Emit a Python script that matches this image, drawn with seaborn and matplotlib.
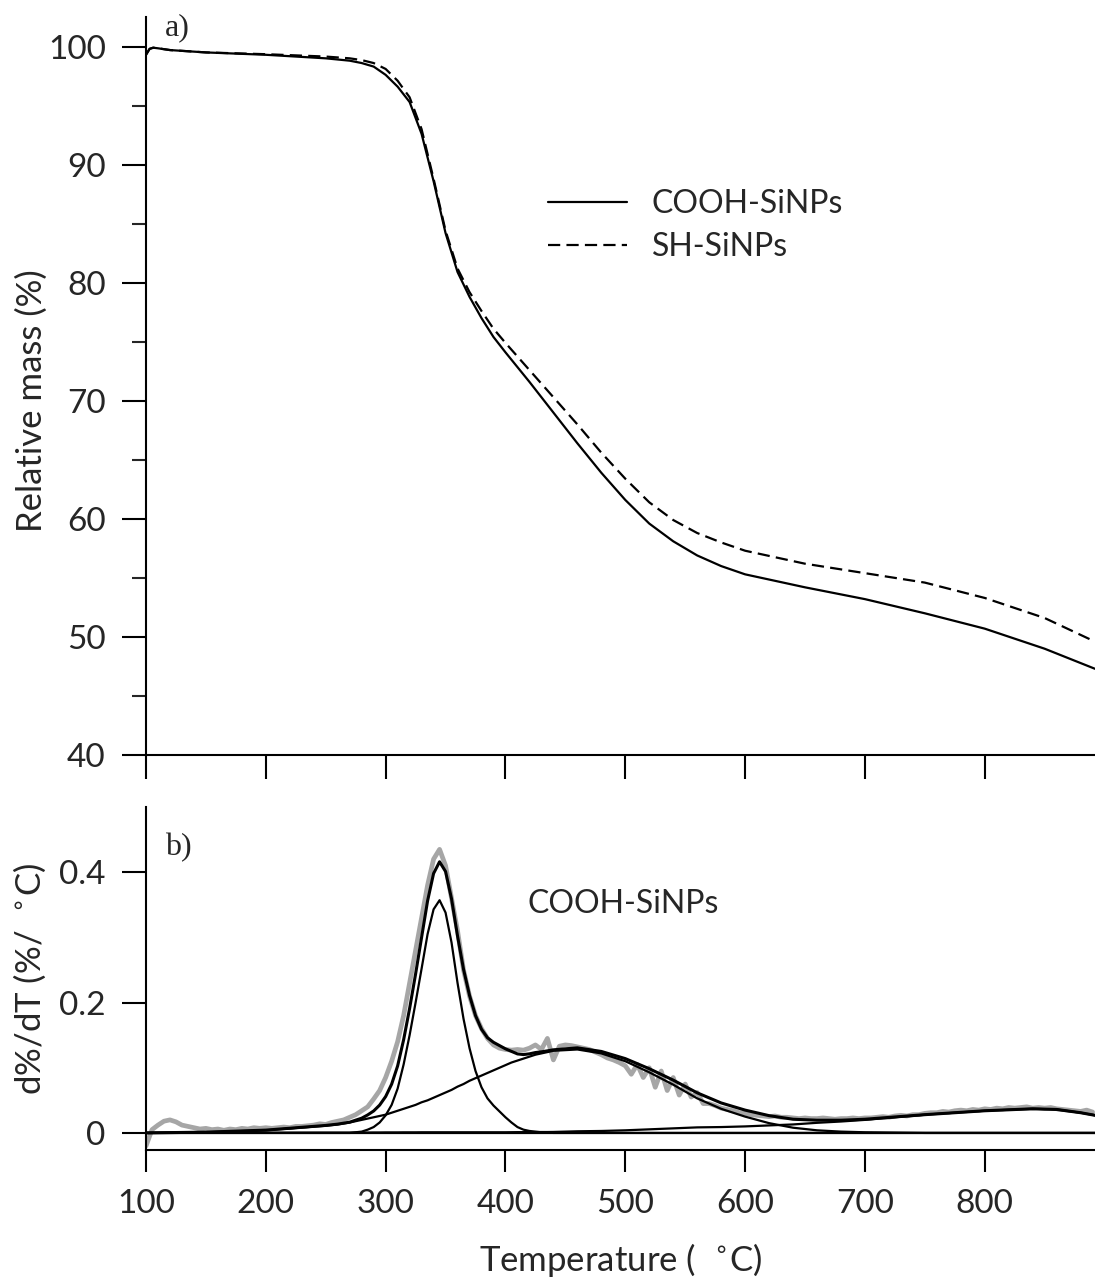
import numpy as np
import pandas as pd
import matplotlib
matplotlib.use("Agg")
import matplotlib.pyplot as plt
import seaborn as sns

# ---------------- data: a) TGA curves ----------------
temp_tga = [100, 103, 106, 110, 120, 150, 200, 250, 270, 280, 290, 300, 310, 320,
            330, 340, 350, 360, 370, 380, 390, 400, 420, 440, 460, 480, 500, 520,
            540, 560, 580, 600, 650, 700, 750, 800, 850, 892]
mass_cooh = [99.3, 99.8, 99.9, 99.85, 99.7, 99.5, 99.3, 99.0, 98.8, 98.6, 98.3, 97.6,
             96.6, 95.3, 92.6, 88.6, 84.2, 80.9, 78.8, 77.0, 75.4, 74.1, 71.6, 69.0,
             66.4, 63.9, 61.6, 59.6, 58.1, 56.9, 56.0, 55.3, 54.2, 53.2, 52.0, 50.7,
             49.0, 47.3]
mass_sh = [99.3, 99.8, 99.9, 99.85, 99.7, 99.5, 99.35, 99.15, 99.0, 98.85, 98.6, 98.1,
           97.1, 95.7, 93.0, 88.8, 84.4, 81.2, 79.2, 77.6, 76.1, 74.9, 72.6, 70.3,
           68.0, 65.6, 63.4, 61.4, 59.9, 58.8, 58.0, 57.3, 56.2, 55.4, 54.6, 53.3,
           51.6, 49.6]

# ---------------- data: b) DTG fit components ----------------
temp_fit = [100, 150, 200, 250, 260, 270,
            275, 280, 285, 290, 295, 300, 305, 310, 315, 320, 325, 330, 335, 340,
            345, 350, 355, 360, 365, 370, 375, 380, 385, 390, 395, 400, 405, 410,
            415, 420, 425, 430, 435, 440,
            460, 480, 500, 520, 540, 560, 580, 600, 620, 640, 660, 680, 700, 750,
            800, 840, 860, 880, 892]
peak1 = [0.0, 0.0, 0.0, 0.0, 0.0, 0.0,
         0.001, 0.002, 0.005, 0.009, 0.016, 0.027, 0.043, 0.068, 0.105, 0.150, 0.200,
         0.252, 0.305, 0.343, 0.357, 0.338, 0.292, 0.230, 0.175, 0.130, 0.095, 0.070,
         0.053, 0.042, 0.033, 0.024, 0.016, 0.009, 0.005, 0.003, 0.002, 0.001,
         0.0005, 0.0,
         0.0, 0.0, 0.0, 0.0, 0.0, 0.0, 0.0, 0.0, 0.0, 0.0, 0.0, 0.0, 0.0, 0.0,
         0.0, 0.0, 0.0, 0.0, 0.0]
peak2 = [0.0, 0.001, 0.004, 0.011, 0.013, 0.016,
         0.018, 0.020, 0.022, 0.024, 0.026, 0.028, 0.031, 0.034, 0.037, 0.040, 0.043,
         0.047, 0.050, 0.054, 0.058, 0.062, 0.066, 0.071, 0.075, 0.080, 0.084, 0.088,
         0.092, 0.096, 0.100, 0.104, 0.108, 0.111, 0.114, 0.117, 0.120, 0.122,
         0.124, 0.126,
         0.128, 0.122, 0.110, 0.093, 0.074, 0.053, 0.037, 0.025, 0.015, 0.008,
         0.004, 0.002, 0.001, 0.0, 0.0, 0.0, 0.0, 0.0, 0.0]
peak3 = [0.0, 0.0002, 0.0003, 0.0005, 0.0005, 0.0005,
         0.0006, 0.0006, 0.0006, 0.0007, 0.0007, 0.0008, 0.0008, 0.0008, 0.0009,
         0.0009, 0.0009, 0.001, 0.001, 0.001, 0.001, 0.001, 0.001, 0.001, 0.001,
         0.001, 0.001, 0.001, 0.001, 0.001, 0.001, 0.001, 0.0011, 0.0012, 0.0012,
         0.0013, 0.0013, 0.0014, 0.0014, 0.0015,
         0.0025, 0.003, 0.004, 0.0055, 0.007, 0.0085, 0.009, 0.010, 0.0115, 0.013,
         0.0155, 0.0175, 0.020, 0.028, 0.034, 0.037, 0.036, 0.031, 0.027]

# ---------------- data: b) measured DTG (5 degC steps) ----------------
temp_raw = list(range(100, 895, 5))
dtg_raw = [-0.02, 0.005, 0.012, 0.018, 0.020, 0.017, 0.012, 0.010, 0.008, 0.006,
           0.007, 0.005, 0.006, 0.004, 0.006, 0.005, 0.007, 0.006, 0.008, 0.007,
           0.008, 0.007, 0.008, 0.009, 0.008, 0.010, 0.010, 0.011, 0.012, 0.014,
           0.013, 0.016, 0.018, 0.020, 0.024, 0.028, 0.034, 0.040, 0.052, 0.065,
           0.085, 0.110, 0.140, 0.180, 0.230, 0.280, 0.330, 0.380, 0.420, 0.435,
           0.410, 0.360, 0.310, 0.250, 0.210, 0.180, 0.160, 0.145, 0.135, 0.130,
           0.128, 0.127, 0.128, 0.127, 0.130, 0.135, 0.128, 0.145, 0.112, 0.133,
           0.135, 0.134, 0.132, 0.130, 0.128, 0.124, 0.120, 0.115, 0.112, 0.108,
           0.103, 0.090, 0.105, 0.085, 0.100, 0.070, 0.095, 0.065, 0.085, 0.058,
           0.075, 0.055, 0.062, 0.045, 0.045, 0.042, 0.038, 0.036, 0.034, 0.031,
           0.030, 0.028, 0.027, 0.026, 0.025, 0.026, 0.024, 0.024, 0.023, 0.022,
           0.023, 0.022, 0.022, 0.023, 0.022, 0.021, 0.022, 0.022, 0.023, 0.022,
           0.023, 0.023, 0.024, 0.025, 0.024, 0.026, 0.027, 0.026, 0.028, 0.028,
           0.030, 0.031, 0.031, 0.033, 0.032, 0.034, 0.035, 0.034, 0.036, 0.035,
           0.037, 0.036, 0.038, 0.037, 0.039, 0.038, 0.039, 0.040, 0.038, 0.039,
           0.038, 0.039, 0.037, 0.036, 0.035, 0.034, 0.033, 0.035, 0.032]

x_ticks = [100, 200, 300, 400, 500, 600, 700, 800]
y_ticks_a = [40, 50, 60, 70, 80, 90, 100]
y_ticks_b = [0, 0.2, 0.4]
y_ticklabels_b = ["0", "0.2", "0.4"]
series_names = ["COOH-SiNPs", "SH-SiNPs"]

# ---------------- style ----------------
sns.set_theme(style="ticks")
plt.rcParams["font.family"] = ["Lato", "DejaVu Sans"]
plt.rcParams["mathtext.fontset"] = "dejavusans"
FS_TICK = 24
FS_LAB = 25
FS_TXT = 23
LW = 1.6

fig = plt.figure(figsize=(10.95, 12.81), dpi=100)
ax1 = fig.add_axes([146 / 1095, 1 - 755 / 1281, 1 - 146 / 1095, (755 - 17) / 1281])
ax2 = fig.add_axes([146 / 1095, 1 - 1150 / 1281, 1 - 146 / 1095, (1150 - 807) / 1281])

# ---- a) ----
df_a = pd.DataFrame({"T": temp_tga + temp_tga,
                     "m": mass_cooh + mass_sh,
                     "s": [series_names[0]] * len(temp_tga) + [series_names[1]] * len(temp_tga)})
sns.lineplot(data=df_a[df_a.s == series_names[0]], x="T", y="m", ax=ax1, color="black",
             lw=LW, label=series_names[0])
sns.lineplot(data=df_a[df_a.s == series_names[1]], x="T", y="m", ax=ax1, color="black",
             lw=LW, linestyle=(0, (5.5, 2.8)), label=series_names[1])
ax1.set_xlim(100, 892)
ax1.set_ylim(40, 102.5)
ax1.set_xticks(x_ticks)
ax1.set_xticklabels([])
ax1.set_yticks(y_ticks_a)
ax1.set_yticks([45, 55, 65, 75, 85, 95], minor=True)
ax1.set_xlabel("")
ax1.set_ylabel("Relative mass (%)", fontsize=FS_LAB)
ax1.yaxis.set_label_coords(-0.103, 0.48)
ax1.tick_params(axis="both", which="major", length=17, width=1.5, labelsize=FS_TICK,
                direction="out", pad=12, color="black")
ax1.tick_params(axis="y", which="minor", length=10, width=1.5, direction="out")
leg = ax1.legend(loc="upper left", bbox_to_anchor=(0.393, 0.806), frameon=False,
                 fontsize=FS_TXT, handlelength=2.48, handletextpad=0.78, labelspacing=0.42)
ax1.text(116, 101.6, "a)", family="Liberation Serif", fontsize=23, va="center", ha="left")

# ---- b) ----
df_raw = pd.DataFrame({"T": temp_raw, "d": dtg_raw})
sns.lineplot(data=df_raw, x="T", y="d", ax=ax2, color="#a6a6a6", lw=3.4)
total = [a + b + c for a, b, c in zip(peak1, peak2, peak3)]
df_fit = pd.DataFrame({"T": temp_fit, "p1": peak1, "p2": peak2, "p3": peak3, "tot": total})
for col in ["p1", "p2", "p3"]:
    sns.lineplot(data=df_fit, x="T", y=col, ax=ax2, color="black", lw=LW)
sns.lineplot(data=df_fit, x="T", y="tot", ax=ax2, color="black", lw=2.2)
ax2.axhline(0, color="black", lw=LW)
ax2.set_xlim(100, 892)
ax2.set_ylim(-0.0262, 0.5)
ax2.set_xticks(x_ticks)
ax2.set_xticklabels([str(t) for t in x_ticks])
ax2.set_yticks(y_ticks_b)
ax2.set_yticklabels(y_ticklabels_b)
ax2.set_xlabel("Temperature (  $^{\\circ}$C)", fontsize=FS_LAB)
ax2.xaxis.set_label_coords(0.5, -0.265)
ax2.set_ylabel("d%/dT (%/  $^{\\circ}$C)", fontsize=FS_LAB)
ax2.yaxis.set_label_coords(-0.103, 0.5)
ax2.tick_params(axis="y", which="major", length=17, width=1.5, labelsize=FS_TICK,
                direction="out", pad=12, color="black")
ax2.tick_params(axis="x", which="major", length=16, width=1.5, labelsize=FS_TICK,
                direction="out", pad=12, color="black")
ax2.text(116, 0.438, "b)", family="Liberation Serif", fontsize=23, va="center", ha="left")
ax2.text(418, 0.351, series_names[0], fontsize=FS_TXT, va="center", ha="left")

for ax in (ax1, ax2):
    sns.despine(ax=ax)
    for sp in ("left", "bottom"):
        ax.spines[sp].set_linewidth(1.5)
        ax.spines[sp].set_color("black")

fig.savefig("out.png", dpi=100)
